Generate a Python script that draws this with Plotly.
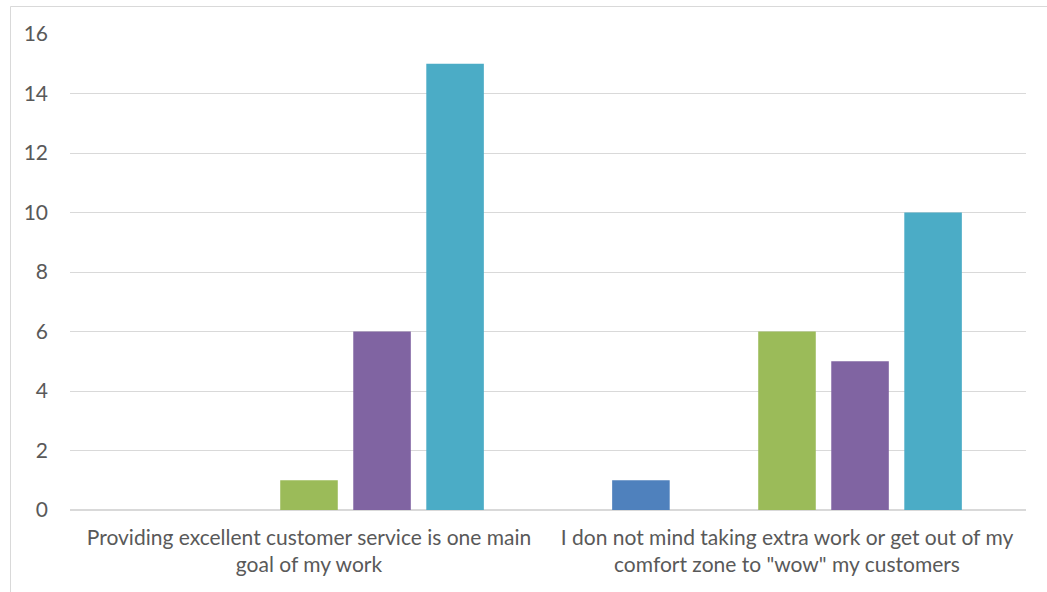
import plotly.graph_objects as go

categories = [
    "Providing excellent customer service is one main<br>goal of my work",
    "I don not mind taking extra work or get out of my<br>comfort zone to \"wow\" my customers",
]
series_names = ["Strongly disagree", "Disagree", "Neutral", "Agree", "Strongly agree"]
series_values = [
    [0, 1],
    [0, 0],
    [1, 6],
    [6, 5],
    [15, 10],
]
series_colors = ["#4F81BD", "#C0504D", "#9BBB59", "#8064A2", "#4BACC6"]
y_ticks = [0, 2, 4, 6, 8, 10, 12, 14, 16]

fig = go.Figure()
for name, vals, col in zip(series_names, series_values, series_colors):
    fig.add_trace(go.Bar(x=categories, y=vals, name=name,
                         marker=dict(color=col, line=dict(width=0))))

W, H = 1047, 592
L, R, T, B = 70, 21, 34, 82
pw, ph = W - L - R, H - T - B

def px_x(p):
    return (p - L) / pw

def px_y(p):
    return (H - B - p) / ph

fig.add_shape(type="rect", xref="paper", yref="paper",
              x0=px_x(10.5), x1=px_x(1060), y0=px_y(6.5), y1=px_y(620),
              line=dict(color="#D9D9D9", width=1), fillcolor="rgba(0,0,0,0)", layer="below")

fig.update_layout(
    width=W, height=H,
    margin=dict(l=L, r=R, t=T, b=B),
    paper_bgcolor="white", plot_bgcolor="white",
    barmode="group", bargap=0.236, bargroupgap=0.212,
    showlegend=False,
    font=dict(family="Lato, Carlito, Calibri, sans-serif", size=20, color="#595959"),
)
fig.update_xaxes(showgrid=False, showline=False, ticks="", ticklabelstandoff=13,
                 tickfont=dict(size=21, color="#595959"))
fig.update_yaxes(range=[0, 16], tickvals=y_ticks, showgrid=True, gridcolor="#D9D9D9", gridwidth=1,
                 zeroline=True, zerolinecolor="#D9D9D9", zerolinewidth=1.5,
                 showline=False, ticks="", ticklabelstandoff=21,
                 tickfont=dict(size=21, color="#595959"))

fig.write_html("out.html")
